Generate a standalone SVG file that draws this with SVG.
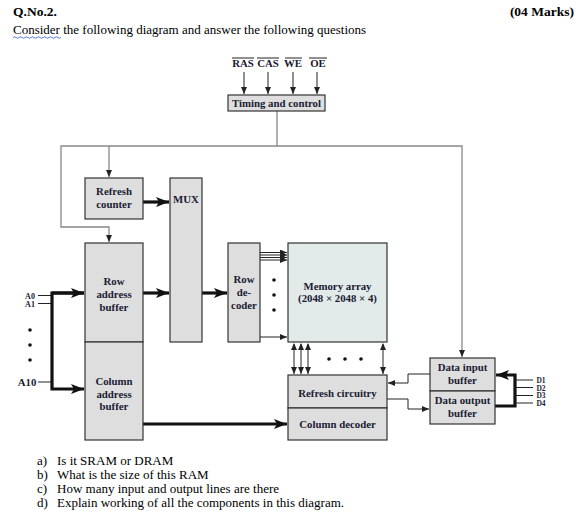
<svg xmlns="http://www.w3.org/2000/svg" width="588" height="518" viewBox="0 0 588 518">
<style>
.t{font-family:"Liberation Serif","Times New Roman",serif;fill:#000}
.h{font-size:13.5px;font-weight:bold}
.q{font-size:13px}
.b{font-family:"Liberation Serif","Times New Roman",serif;font-size:10.8px;font-weight:bold;fill:#1a1a33;text-anchor:middle}
.s{font-size:8px}
.xs{font-size:7.5px}
.box{fill:#dedede;stroke:#333;stroke-width:1.2}
.mem{fill:#e2ebe9;stroke:#333;stroke-width:1.2}
.g{fill:none;stroke:#888;stroke-width:1.3}
.k{fill:none;stroke:#222;stroke-width:1}
.thk{fill:none;stroke:#111;stroke-width:3.2}
.d{fill:#111}
</style>
<defs>
<marker id="a" markerWidth="8" markerHeight="6" refX="7" refY="3" orient="auto" markerUnits="userSpaceOnUse"><path d="M0,0 L7,3 L0,6 Z" fill="#222"/></marker>
<marker id="as" markerWidth="8" markerHeight="6" refX="1" refY="3" orient="auto" markerUnits="userSpaceOnUse"><path d="M7,0 L0,3 L7,6 Z" fill="#222"/></marker>
<marker id="A" markerWidth="14" markerHeight="10" refX="13" refY="5" orient="auto" markerUnits="userSpaceOnUse"><path d="M0,0 L13,5 L0,10 L3,5 Z" fill="#111"/></marker>
</defs>

<text class="t h" x="13" y="16">Q.No.2.</text>
<text class="t h" x="574" y="16" text-anchor="end">(04  Marks)</text>
<text class="t q" x="13" y="34">Consider the following diagram and answer the following questions</text>
<path d="M13,37.5 q1.5,-1.5 3,0 t3,0 t3,0 t3,0 t3,0 t3,0 t3,0 t3,0 t3,0 t3,0 t3,0 t3,0 t3,0 t3,0 t3,0 t3,0" fill="none" stroke="#3355cc" stroke-width="0.8"/>

<g id="signals">
<text class="b" x="243" y="67">RAS</text>
<text class="b" x="268" y="67">CAS</text>
<text class="b" x="293" y="67">WE</text>
<text class="b" x="318" y="67">OE</text>
<path class="k" d="M232,58H254M257,58H279M285,58H302M309,58H327"/>
</g>

<g id="connectors">
<line class="k" x1="244" y1="72" x2="244" y2="94" marker-end="url(#a)"/>
<line class="k" x1="268" y1="72" x2="268" y2="94" marker-end="url(#a)"/>
<line class="k" x1="293" y1="72" x2="293" y2="94" marker-end="url(#a)"/>
<line class="k" x1="317" y1="72" x2="317" y2="94" marker-end="url(#a)"/>
<path class="g" d="M277,111V146H61V227H109V242" marker-end="url(#a)"/>
<path class="g" d="M109,146V177" marker-end="url(#a)"/>
<path class="g" d="M277,146H462V357" marker-end="url(#a)"/>
<path class="thk" d="M143,202H169" marker-end="url(#A)"/>
<path class="thk" d="M143,293H169" marker-end="url(#A)"/>
<path class="thk" d="M202,293H227" marker-end="url(#A)"/>
<line class="k" x1="260" y1="252.5" x2="287" y2="252.5" marker-end="url(#a)"/>
<line class="k" x1="260" y1="255" x2="287" y2="255" marker-end="url(#a)"/>
<line class="k" x1="260" y1="257.5" x2="287" y2="257.5" marker-end="url(#a)"/>
<line class="k" x1="260" y1="260" x2="287" y2="260" marker-end="url(#a)"/>
<line class="k" x1="260" y1="337" x2="287" y2="337" marker-end="url(#a)"/>
<line class="k" x1="294" y1="344" x2="294" y2="374" marker-start="url(#as)" marker-end="url(#a)"/>
<line class="k" x1="301" y1="344" x2="301" y2="374" marker-start="url(#as)" marker-end="url(#a)"/>
<line class="k" x1="308" y1="344" x2="308" y2="374" marker-start="url(#as)" marker-end="url(#a)"/>
<line class="k" x1="383" y1="344" x2="383" y2="374" marker-start="url(#as)" marker-end="url(#a)"/>
<path class="k" d="M430,374H408V383H388" marker-end="url(#a)"/>
<path class="k" d="M387,399H408V409H429" marker-end="url(#a)"/>
<path class="thk" d="M143,424H287" marker-end="url(#A)"/>
<path class="k" d="M38,295.5H52M38,303.5H52M38,382H52"/>
<path class="thk" d="M84,293H52V389H84" marker-end="url(#A)"/>
<path class="thk" d="M52,293H84" marker-end="url(#A)"/>
<path class="thk" d="M495,406H515V375H496" marker-end="url(#A)"/>
<path class="k" d="M515,380H533M515,387.5H533M515,395.5H533M515,403H533" stroke="#777"/>
</g>

<g id="timing"><rect class="box" x="228" y="95" width="97" height="16"/><text class="b" x="276.5" y="107">Timing and control</text></g>
<g id="refresh-counter"><rect class="box" x="85" y="178" width="58" height="41"/><text class="b" x="114" y="195">Refresh</text><text class="b" x="114" y="208">counter</text></g>
<g id="mux"><rect class="box" x="170" y="178" width="32" height="164"/><text class="b" x="186" y="203">MUX</text></g>
<g id="row-address-buffer"><rect class="box" x="85" y="243" width="58" height="99"/><text class="b" x="114" y="285">Row</text><text class="b" x="114" y="298">address</text><text class="b" x="114" y="311">buffer</text></g>
<g id="column-address-buffer"><rect class="box" x="85" y="342" width="58" height="98"/><text class="b" x="114" y="385">Column</text><text class="b" x="114" y="398">address</text><text class="b" x="114" y="410">buffer</text></g>
<g id="row-decoder"><rect class="box" x="228" y="243" width="32" height="99"/><text class="b" x="244" y="283">Row</text><text class="b" x="244" y="296">de-</text><text class="b" x="244" y="309">coder</text></g>
<g id="memory-array"><rect class="mem" x="288" y="243" width="99" height="99"/><text class="b" x="337.5" y="290">Memory array</text><text class="b" x="337.5" y="302">(2048 × 2048 × 4)</text></g>
<g id="refresh-circuitry"><rect class="box" x="288" y="375" width="99" height="33"/><text class="b" x="337.5" y="397">Refresh circuitry</text></g>
<g id="column-decoder"><rect class="box" x="288" y="408" width="99" height="32"/><text class="b" x="337.5" y="428">Column decoder</text></g>
<g id="data-input-buffer"><rect class="box" x="430" y="358" width="65" height="33"/><text class="b" x="462.5" y="371">Data input</text><text class="b" x="462.5" y="384">buffer</text></g>
<g id="data-output-buffer"><rect class="box" x="430" y="391" width="65" height="33"/><text class="b" x="462.5" y="404">Data output</text><text class="b" x="462.5" y="417">buffer</text></g>

<g id="labels">
<text class="b s" x="30" y="298.5">A0</text>
<text class="b s" x="30" y="307">A1</text>
<text class="b" x="27" y="386">A10</text>
<circle class="d" cx="30" cy="330" r="1.8"/><circle class="d" cx="30" cy="345" r="1.8"/><circle class="d" cx="30" cy="360" r="1.8"/>
<circle class="d" cx="274" cy="280" r="1.8"/><circle class="d" cx="274" cy="295" r="1.8"/><circle class="d" cx="274" cy="310" r="1.8"/>
<circle class="d" cx="329" cy="359" r="1.8"/><circle class="d" cx="345" cy="359" r="1.8"/><circle class="d" cx="361" cy="359" r="1.8"/>
<text class="b xs" x="541" y="383">D1</text>
<text class="b xs" x="541" y="390.5">D2</text>
<text class="b xs" x="541" y="398">D3</text>
<text class="b xs" x="541" y="405.5">D4</text>
</g>

<g id="questions">
<text class="t q" x="37" y="465">a)</text><text class="t q" x="57" y="465">Is it SRAM or DRAM</text>
<text class="t q" x="37" y="479">b)</text><text class="t q" x="57" y="479">What is the size of this RAM</text>
<text class="t q" x="37" y="493">c)</text><text class="t q" x="57" y="493">How many input and output lines are there</text>
<text class="t q" x="37" y="507">d)</text><text class="t q" x="57" y="507">Explain working of all the components in this diagram.</text>
</g>
</svg>
